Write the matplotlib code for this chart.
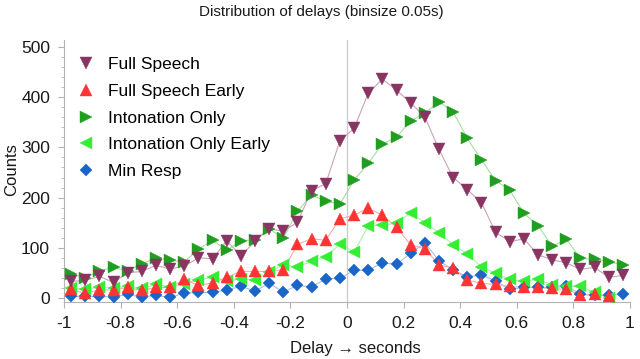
import numpy as np
import matplotlib
matplotlib.use("Agg")
import matplotlib.pyplot as plt
from matplotlib.ticker import MultipleLocator

plt.rcParams['font.family'] = ['Liberation Sans', 'DejaVu Sans']

# Bin centres (binsize 0.05 s) from -0.975 to 0.975
delay = np.round(np.arange(-0.975, 1.0, 0.05), 3)

full_speech = [33, 35, 43, 31, 50, 53, 65, 58, 63, 80,
               78, 114, 84, 113, 138, 133, 151, 214, 228, 313,
               338, 408, 436, 414, 389, 361, 296, 240, 216, 190,
               131, 112, 118, 86, 76, 70, 57, 61, 41, 45]
full_speech_early = [17, 9, 16, 16, 21, 15, 21, 21, 37, 25,
                     30, 41, 53, 53, 53, 56, 107, 118, 115, 158,
                     165, 179, 165, 141, 106, 98, 66, 59, 36, 29,
                     27, 23, 21, 21, 19, 17, 6, 7, 4, np.nan]
intonation_only = [48, 40, 54, 61, 54, 68, 80, 75, 72, 97,
                   115, 95, 114, 116, 138, 119, 173, 205, 193, 187,
                   235, 268, 307, 320, 353, 368, 391, 371, 318, 275,
                   234, 215, 169, 144, 103, 117, 79, 77, 72, 66]
intonation_only_early = [20, 17, 22, 19, 24, 19, 27, 22, 28, 36,
                         41, 34, 38, 36, 51, 66, 62, 73, 82, 107,
                         92, 143, 145, 149, 170, 150, 130, 106, 88, 62,
                         49, 37, 33, 37, 26, 24, 23, 11, 0, np.nan]
min_resp = [3, 3, 3, 2, 7, 2, 5, 1, 10, 11,
            11, 16, 23, 14, 29, 12, 25, 22, 38, 39,
            55, 55, 70, 67, 89, 110, 74, 56, 42, 46,
            34, 17, 21, 21, 21, 23, 8, 5, 6, 7]

x_ticks = [-1, -0.8, -0.6, -0.4, -0.2, 0, 0.2, 0.4, 0.6, 0.8, 1]
x_tick_labels = ['-1', '-0.8', '-0.6', '-0.4', '-0.2', '0', '0.2', '0.4', '0.6', '0.8', '1']
y_ticks = [0, 100, 200, 300, 400, 500]

# label, values, marker, marker colour, line colour, marker size
series = [
    ("Full Speech", full_speech, 'v', '#8a3462', '#c9a3b8', 8.5),
    ("Full Speech Early", full_speech_early, '^', '#ff3333', '#ffaaaa', 8.5),
    ("Intonation Only", intonation_only, '>', '#1f9e1f', '#a8dca8', 8.5),
    ("Intonation Only Early", intonation_only_early, '<', '#33ee33', '#aaf2aa', 8.5),
    ("Min Resp", min_resp, 'D', '#1a66c8', '#a3c2e8', 6.5),
]

fig = plt.figure(figsize=(6.4, 3.59), dpi=100)
ax = fig.add_axes([64 / 640, 1 - 302 / 359, (630 - 64) / 640, (302 - 40) / 359])

grey = '#b3b3b3'
ax.axvline(0, color='#cccccc', lw=1.0, zorder=0)

handles = {}
# later series in the list are drawn first so Full Speech sits on top
for z, (label, vals, mk, mc, lc, ms) in enumerate(reversed(series)):
    ax.plot(delay, vals, color=lc, lw=0.8, zorder=1 + z)
    h, = ax.plot(delay, vals, linestyle='none', marker=mk, markersize=ms,
                 markerfacecolor=mc, markeredgecolor=mc, markeredgewidth=0.3,
                 zorder=10 + z, label=label)
    handles[label] = h

ax.set_xlim(-1, 1)
ax.set_ylim(-8, 514)
ax.set_xticks(x_ticks)
ax.set_xticklabels(x_tick_labels)
ax.set_yticks(y_ticks)
ax.yaxis.set_minor_locator(MultipleLocator(20))

for side in ('top', 'right'):
    ax.spines[side].set_visible(False)
for side in ('left', 'bottom'):
    ax.spines[side].set_color(grey)
    ax.spines[side].set_linewidth(0.8)

ax.tick_params(axis='both', which='major', colors=grey, labelcolor='#1a1a1a',
               labelsize=12.5, length=4, width=0.8)
ax.tick_params(axis='y', which='minor', colors=grey, length=2.5, width=0.6)
ax.tick_params(axis='x', pad=6)
ax.tick_params(axis='y', pad=6)

leg = ax.legend([handles[s[0]] for s in series], [s[0] for s in series],
                loc='upper left', bbox_to_anchor=(0.005, 0.974), frameon=False,
                fontsize=12.5, handlelength=1.0, handletextpad=0.75,
                labelspacing=0.66, borderaxespad=0.2)

fig.text(0.502, 1 - 12 / 359, "Distribution of delays (binsize 0.05s)",
         ha='center', va='center', fontsize=11, color='#1a1a1a')
fig.text(355 / 640, 1 - 349 / 359, "Delay \u2192 seconds",
         ha='center', va='center', fontsize=12, color='#1a1a1a')
fig.text(12 / 640, 1 - 170 / 359, "Counts", rotation=90,
         ha='center', va='center', fontsize=12, color='#1a1a1a')

fig.savefig("out.png", dpi=100)
